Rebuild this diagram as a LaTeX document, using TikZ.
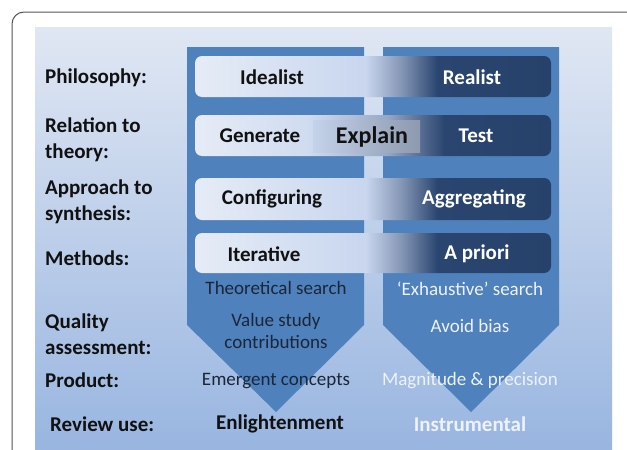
\documentclass[tikz,border=0pt]{standalone}
\usepackage{fontspec}
\setmainfont{Carlito}
\definecolor{slidetop}{HTML}{E0E7F3}
\definecolor{slidebot}{HTML}{98B5E0}
\definecolor{chev}{HTML}{4F81BD}
\definecolor{pA}{HTML}{E6ECF6}
\definecolor{pB}{HTML}{C8D6EE}
\definecolor{pC}{HTML}{8496B5}
\definecolor{pD}{HTML}{2A4670}
\definecolor{pE}{HTML}{26416A}
\definecolor{qB}{HTML}{CFDBEF}
\definecolor{qC}{HTML}{98A8C4}
\definecolor{qD}{HTML}{5A6F94}
\definecolor{exL}{HTML}{C4D2EA}
\definecolor{exR}{HTML}{8C99AE}
\definecolor{txtdark}{HTML}{111111}
\definecolor{txtchev}{HTML}{1B2638}
\definecolor{txtlight}{HTML}{EEF2FA}
\definecolor{framecol}{HTML}{555555}
\pgfdeclarehorizontalshading{pillshade}{100bp}{color(0bp)=(pA); color(25bp)=(pA); color(49bp)=(pB); color(54bp)=(pC); color(59bp)=(pD); color(75bp)=(pE); color(100bp)=(pE)}
\pgfdeclarehorizontalshading{pillshadetwo}{100bp}{color(0bp)=(pA); color(25bp)=(pA); color(41bp)=(qB); color(52bp)=(qC); color(56.5bp)=(qD); color(60bp)=(pD); color(75bp)=(pE); color(100bp)=(pE)}
\tikzset{
  lab/.style={anchor=west, align=left, font=\bfseries\fontsize{21}{26}\selectfont, text=txtdark, inner sep=0pt},
  pilltxt/.style={font=\bfseries\fontsize{21}{25}\selectfont, inner sep=0pt},
  chevtxt/.style={font=\fontsize{19}{22}\selectfont, inner sep=0pt, align=center},
  pill/.style={rounded corners=7pt, shading=pillshade},
}
\begin{document}
\begin{tikzpicture}[x=1pt,y=-1pt]
\useasboundingbox (0,0) rectangle (627,450);
\fill[white] (0,0) rectangle (627,450);
% frame
\draw[framecol, line width=1pt, rounded corners=12pt] (12,452) -- (12,12) -- (629,12);
% slide
\shade[top color=slidetop, bottom color=slidebot] (35,27) rectangle (612,452);
% chevrons
\fill[chev] (187,47) -- (364,47) -- (364,325) -- (276,412) -- (187,325) -- cycle;
\fill[chev] (383,47) -- (559,47) -- (559,325) -- (471,412) -- (383,325) -- cycle;
% pills
\path[pill] (195,56) rectangle (551,97);
\path[pill, shading=pillshadetwo] (195,115) rectangle (551,156);
\shade[left color=exL, right color=exR] (313,120) rectangle (420,152);
\path[pill] (195,178) rectangle (551,220);
\path[pill] (195,233) rectangle (551,273);
% left labels
\node[lab] (l1) at (45,78) {Philosophy:};
\node[lab] (l2) at (45,140) {Relation to\\theory:};
\node[lab] (l3) at (45,201.5) {Approach to\\synthesis:};
\node[lab] (l4) at (45,258) {Methods:};
\node[lab] (l5) at (45,334) {Quality\\assessment:};
\node[lab] (l6) at (45,380) {Product:};
\node[lab] (l7) at (50,424) {Review use:};
% pill texts
\node[pilltxt, text=txtdark] (p1l) at (272,77) {Idealist};
\node[pilltxt, text=white] (p1r) at (472,77) {Realist};
\node[pilltxt, text=txtdark] (p2l) at (260,136) {Generate};
\node[pilltxt, text=txtdark, font=\bfseries\fontsize{24}{28}\selectfont] (p2m) at (372,137) {Explain};
\node[pilltxt, text=white] (p2r) at (476,136) {Test};
\node[pilltxt, text=txtdark] (p3l) at (272,199) {Configuring};
\node[pilltxt, text=white] (p3r) at (474,199) {Aggregating};
\node[pilltxt, text=txtdark] (p4l) at (264,254) {Iterative};
\node[pilltxt, text=white] (p4r) at (477,254) {A priori};
% chevron texts
\node[chevtxt, text=txtchev] (c1l) at (276,288) {Theoretical search};
\node[chevtxt, text=txtlight] (c1r) at (470,289) {‘Exhaustive’ search};
\node[chevtxt, text=txtchev, font=\fontsize{19}{22}\selectfont] (c2l) at (276,331) {Value study\\contributions};
\node[chevtxt, text=txtlight] (c2r) at (470,326) {Avoid bias};
\node[chevtxt, text=txtchev] (c3l) at (276,381) {Emergent concepts};
\node[chevtxt, text=txtlight] (c3r) at (470,381) {Magnitude \& precision};
\node[pilltxt, text=txtdark] (c4l) at (280,424) {Enlightenment};
\node[pilltxt, text=txtlight] (c4r) at (470,424) {Instrumental};
\end{tikzpicture}
\end{document}
